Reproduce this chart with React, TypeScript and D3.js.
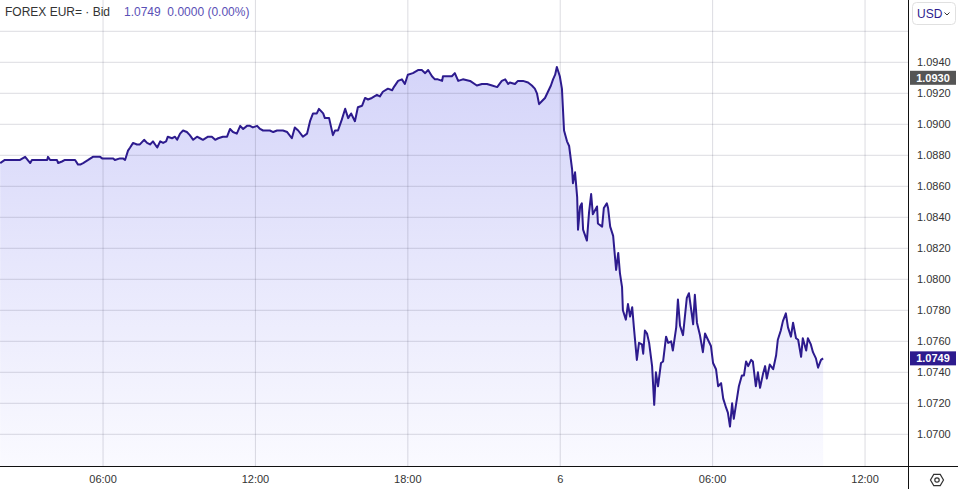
import React from 'react';
import * as d3 from 'd3';

// minutes since 2024-11-05 00:00 (UTC-based clock of the chart)
const minutes = [
  117,128,133,147,164,176,188,192,211,228,
  230,235,251,254,263,270,294,301,306,313,
  325,336,353,358,376,384,388,400,407,412,
  419,424,431,440,447,457,464,471,478,483,
  488,495,502,509,513,523,530,535,542,549,
  558,565,573,582,589,596,608,617,625,632,
  643,653,660,667,676,684,691,700,707,714,
  724,731,738,747,754,762,771,785,795,806,
  813,821,832,842,849,856,865,870,880,884,
  894,903,908,915,924,932,939,946,955,962,
  972,979,986,995,1007,1014,1021,1033,1043,1047,
  1057,1066,1073,1080,1092,1104,1113,1121,1128,1137,
  1144,1151,1161,1163,1175,1184,1191,1199,1210,1227,
  1243,1255,1267,1279,1291,1302,1310,1317,1321,1333,
  1340,1352,1364,1373,1380,1385,1390,1397,1404,1411,
  1418,1423,1428,1432,1439,1444,1449,1456,1461,1468,
  1470,1475,1480,1482,1487,1491,1494,1503,1508,1513,
  1517,1527,1529,1539,1543,1550,1553,1558,1565,1572,
  1577,1581,1586,1588,1595,1600,1605,1610,1614,1621,
  1626,1633,1636,1640,1645,1650,1657,1662,1666,1671,
  1678,1683,1690,1695,1702,1706,1714,1718,1723,1730,
  1739,1744,1754,1758,1763,1770,1777,1782,1789,1796,
  1801,1808,1813,1820,1825,1832,1836,1841,1846,1850,
  1858,1862,1869,1874,1879,1884,1891,1895,1902,1907,
  1912,1919,1924,1928,1935,1943,1950,1954,1961,1966,
  1973,1978,1985,1990,1997,2002,2009,2013,2021,2025,
  2032,2037,2044,2049,2056,2061,
];

const bid = [
  1.0875,1.0877,1.0877,1.0877,1.0877,1.0879,1.0875,1.0877,1.0877,1.0877,
  1.0879,1.0877,1.0877,1.0875,1.0876,1.0877,1.0877,1.0874,1.0874,1.0875,
  1.0877,1.0879,1.0879,1.0878,1.0878,1.0878,1.0877,1.0878,1.0878,1.0877,
  1.0883,1.0885,1.0888,1.0887,1.0887,1.0890,1.0888,1.0887,1.0889,1.0887,
  1.0885,1.0889,1.0888,1.0889,1.0892,1.0891,1.0892,1.0890,1.0894,1.0896,
  1.0895,1.0893,1.0890,1.0892,1.0891,1.0890,1.0892,1.0892,1.0890,1.0891,
  1.0892,1.0892,1.0897,1.0895,1.0894,1.0899,1.0897,1.0899,1.0899,1.0898,
  1.0899,1.0897,1.0896,1.0896,1.0896,1.0895,1.0896,1.0896,1.0895,1.0891,
  1.0898,1.0896,1.0892,1.0894,1.0902,1.0907,1.0907,1.0910,1.0907,1.0904,
  1.0904,1.0893,1.0896,1.0896,1.0903,1.0910,1.0904,1.0907,1.0902,1.0911,
  1.0912,1.0917,1.0916,1.0917,1.0919,1.0918,1.0921,1.0923,1.0922,1.0924,
  1.0928,1.0929,1.0926,1.0932,1.0933,1.0935,1.0935,1.0933,1.0935,1.0931,
  1.0929,1.0929,1.0928,1.0931,1.0931,1.0931,1.0933,1.0928,1.0929,1.0928,
  1.0925,1.0926,1.0926,1.0925,1.0924,1.0928,1.0929,1.0926,1.0927,1.0926,
  1.0928,1.0928,1.0927,1.0925,1.0923,1.0920,1.0913,1.0915,1.0917,1.0921,
  1.0925,1.0929,1.0932,1.0937,1.0931,1.0923,1.0896,1.0889,1.0886,1.0871,
  1.0862,1.0869,1.0853,1.0832,1.0847,1.0849,1.0832,1.0825,1.0843,1.0855,
  1.0842,1.0847,1.0836,1.0834,1.0846,1.0849,1.0846,1.0834,1.0828,1.0806,
  1.0817,1.0804,1.0795,1.0780,1.0774,1.0784,1.0776,1.0782,1.0769,1.0748,
  1.0759,1.0758,1.0752,1.0767,1.0765,1.0759,1.0744,1.0719,1.0740,1.0731,
  1.0746,1.0747,1.0763,1.0759,1.0760,1.0754,1.0769,1.0787,1.0770,1.0764,
  1.0788,1.0791,1.0771,1.0790,1.0772,1.0764,1.0753,1.0765,1.0761,1.0757,
  1.0746,1.0742,1.0731,1.0733,1.0723,1.0717,1.0714,1.0705,1.0720,1.0710,
  1.0724,1.0731,1.0738,1.0738,1.0747,1.0744,1.0748,1.0747,1.0731,1.0740,
  1.0730,1.0739,1.0744,1.0736,1.0745,1.0742,1.0751,1.0761,1.0767,1.0773,
  1.0778,1.0769,1.0763,1.0772,1.0762,1.0761,1.0750,1.0762,1.0754,1.0762,
  1.0758,1.0753,1.0749,1.0743,1.0748,1.0749,
];

const xTickHours = [6, 12, 18, 24, 30, 36];
const xTickLabels = ['06:00', '12:00', '18:00', '6', '06:00', '12:00'];
const yTickValues = [1.07, 1.072, 1.074, 1.076, 1.078, 1.08, 1.082, 1.084, 1.086, 1.088, 1.09, 1.092, 1.094];
const yGridValues = [...yTickValues, 1.096];
const lastPrice = 1.0749;
const refPrice = 1.093;
const headerTitle = 'FOREX EUR= \u00b7 Bid';
const headerQuote = '1.0749  0.0000 (0.00%)';
const currency = 'USD';

const W = 958;
const H = 489;
const PR = 908;
const PB = 466;
const BASE = Date.UTC(2024, 10, 5);
const toDate = (m: number) => new Date(BASE + m * 60000);

const LINE = '#2d1b8e';
const FONT = '"Liberation Sans", Arial, sans-serif';

export default function App() {
  const x = d3.scaleUtc().domain([toDate(116.6), toDate(2261.5)]).range([0, PR]);
  const y = d3.scaleLinear().domain([1.07, 1.094]).range([434.3, 62.3]);
  const data = minutes.map((m, i) => ({ t: toDate(m), v: bid[i] }));
  const line = d3.line<any>().x(d => x(d.t)).y(d => y(d.v));
  const area = d3.area<any>().x(d => x(d.t)).y0(PB).y1(d => y(d.v));
  const fmt = d3.format('.4f');

  const hex = d3.range(6).map(i => {
    const a = (Math.PI / 3) * i;
    return [937 + 6.5 * Math.cos(a), 480 + 6.5 * Math.sin(a)];
  });

  return (
    <svg width={W} height={H} style={{ position: 'absolute', left: 0, top: 0, background: '#fff' }}
      fontFamily={FONT}>
      <defs>
        <linearGradient id="fillg" gradientUnits="userSpaceOnUse" x1="0" y1="62" x2="0" y2={PB}>
          <stop offset="0" stopColor="#d4d4f9" />
          <stop offset="1" stopColor="#fafaff" />
        </linearGradient>
      </defs>
      <path d={area(data) || ''} fill="url(#fillg)" />
      {yGridValues.map(v => (
        <line key={'h' + v} x1={0} x2={PR} y1={y(v)} y2={y(v)} stroke="rgba(60,60,90,0.18)" />
      ))}
      {xTickHours.map(h => (
        <line key={'v' + h} x1={x(toDate(h * 60))} x2={x(toDate(h * 60))} y1={0} y2={PB}
          stroke="rgba(60,60,90,0.18)" />
      ))}
      <path d={line(data) || ''} fill="none" stroke={LINE} strokeWidth={2} strokeLinejoin="round" />
      <line x1={0} x2={W} y1={PB + 0.5} y2={PB + 0.5} stroke="#111" />
      <line x1={PR + 0.5} x2={PR + 0.5} y1={0} y2={H} stroke="#111" />
      {xTickHours.map((h, i) => (
        <text key={'xt' + h} x={x(toDate(h * 60))} y={483} textAnchor="middle" fontSize={11} fill="#333">
          {xTickLabels[i]}
        </text>
      ))}
      {yTickValues.map(v => (
        <text key={'yt' + v} x={917} y={y(v) + 4} fontSize={11} fill="#333">{fmt(v)}</text>
      ))}
      <rect x={910} y={y(refPrice) - 7} width={46} height={14} fill="#555" />
      <text x={933} y={y(refPrice) + 4} textAnchor="middle" fontSize={11} fontWeight="bold" fill="#fff">
        {fmt(refPrice)}
      </text>
      <rect x={910} y={y(lastPrice) - 7} width={46} height={14} fill={LINE} />
      <text x={933} y={y(lastPrice) + 4} textAnchor="middle" fontSize={11} fontWeight="bold" fill="#fff">
        {fmt(lastPrice)}
      </text>
      <text x={5} y={16} fontSize={12} fill="#333" xmlSpace="preserve">{headerTitle}</text>
      <text x={124} y={16} fontSize={12} fill="#5a4fb6" style={{ whiteSpace: 'pre' }}>{headerQuote}</text>
      <rect x={912.5} y={2.5} width={43} height={22} rx={4} fill="#fff" stroke="#e0e0e0" />
      <text x={917} y={18} fontSize={12} fill={LINE}>{currency}</text>
      <path d="M944.5,12.5 L947,15 L949.5,12.5" fill="none" stroke="#333" strokeWidth={1} />
      <polygon points={hex.map(p => p.join(',')).join(' ')} fill="none" stroke="#333" strokeWidth={1.2} />
      <circle cx={937} cy={480} r={2.2} fill="none" stroke="#333" strokeWidth={1.2} />
    </svg>
  );
}
